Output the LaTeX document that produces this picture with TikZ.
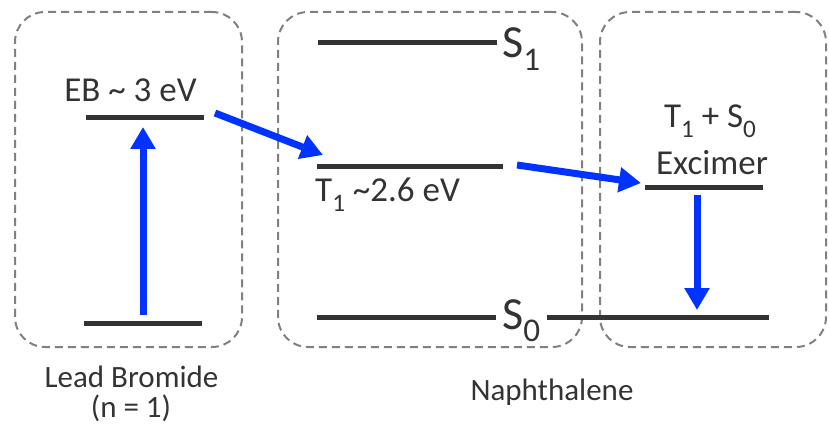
\documentclass[tikz,border=0pt]{standalone}
\usepackage{fontspec}
\setmainfont{Carlito}
\usetikzlibrary{arrows.meta}
\definecolor{lvlc}{HTML}{333333}
\definecolor{arrc}{HTML}{0033FF}
\definecolor{dashgray}{HTML}{808080}
\newcommand\lowsub[1]{\raisebox{-0.28em}{\scalebox{0.72}{#1}}}
\begin{document}
\begin{tikzpicture}[x=1pt,y=-1pt,
  grp/.style={draw=dashgray, line width=2pt, dash pattern=on 8pt off 5pt, rounded corners=30pt, inner sep=0pt},
  lvl/.style={draw=lvlc, line width=5pt},
  tr/.style={draw=arrc, line width=7pt, -{Triangle[length=22pt,width=24pt]}},
  txt/.style={text=lvlc, inner sep=0pt, anchor=base},
  big/.style={txt, font=\fontsize{35}{40}\selectfont},
  mid/.style={txt, font=\fontsize{31}{36}\selectfont},
  huge/.style={txt, anchor=base west, font=\fontsize{46}{50}\selectfont}]
\useasboundingbox (0,0) rectangle (829,430);
% group boxes
\node[grp, minimum width=227pt, minimum height=335pt] (gLead) at (128.5,179.5) {};
\node[grp, minimum width=304pt, minimum height=335pt] (gNaph) at (430,179.5) {};
\node[grp, minimum width=226pt, minimum height=335pt] (gExc) at (713,179.5) {};
% levels
\coordinate (lh1) at (86,118);  \coordinate (lh2) at (204,118);
\coordinate (ll1) at (84,323);  \coordinate (ll2) at (202,323);
\coordinate (s11) at (318,43);  \coordinate (s12) at (497,43);
\coordinate (t11) at (317,167); \coordinate (t12) at (503,167);
\coordinate (ex1) at (645,188); \coordinate (ex2) at (763,188);
\coordinate (s01) at (317,317); \coordinate (s02) at (496,317);
\coordinate (s03) at (547,317); \coordinate (s04) at (769,317);
\draw[lvl] (lh1) -- (lh2);
\draw[lvl] (ll1) -- (ll2);
\draw[lvl] (s11) -- (s12);
\draw[lvl] (t11) -- (t12);
\draw[lvl] (ex1) -- (ex2);
\draw[lvl] (s01) -- (s02);
\draw[lvl] (s03) -- (s04);
% arrow end points
\coordinate (a1s) at (143,315); \coordinate (a1e) at (143,127);
\coordinate (a2s) at (215,113); \coordinate (a2e) at (323,155);
\coordinate (a3s) at (517,165); \coordinate (a3e) at (641,183);
\coordinate (a4s) at (697,195); \coordinate (a4e) at (697,310);
\draw[tr] (a1s) -- (a1e);
\draw[tr] (a2s) -- (a2e);
\draw[tr] (a3s) -- (a3e);
\draw[tr] (a4s) -- (a4e);
% labels
\node[big] (eb) at (130.5,102) {EB \textasciitilde{} 3 eV};
\node[big, anchor=base west] (t1) at (315,202) {T\lowsub{1} \textasciitilde2.6 eV};
\node[huge] (s1) at (502,58) {S\lowsub{1}};
\node[huge] (s0) at (502,329) {S\lowsub{0}};
\node[big] (ts) at (710,128) {T\lowsub{1} + S\lowsub{0}};
\node[big] (exc) at (712,175) {Excimer};
\node[mid] (lead) at (131.5,387) {Lead Bromide};
\node[mid] (n1) at (131,417) {(n = 1)};
\node[mid] (naph) at (552,400) {Naphthalene};
\end{tikzpicture}
\end{document}
